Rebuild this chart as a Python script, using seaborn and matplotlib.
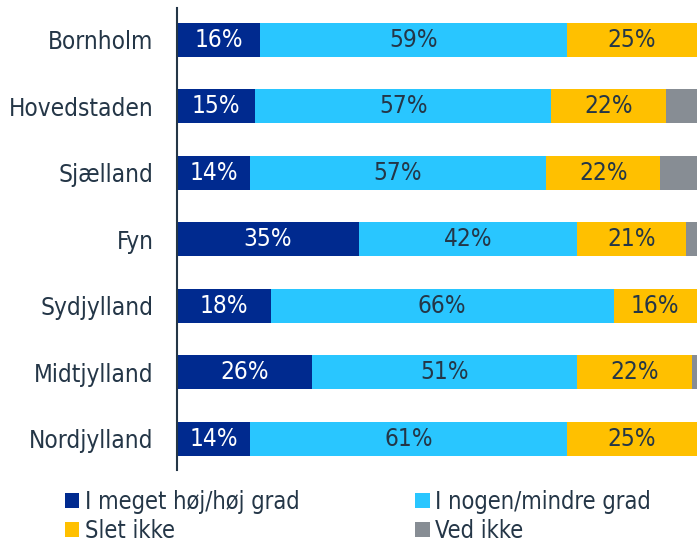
import numpy as np
import pandas as pd
import matplotlib.pyplot as plt
import seaborn as sns
from matplotlib.patches import Patch

# data
regions = ['Bornholm', 'Hovedstaden', 'Sjælland', 'Fyn', 'Sydjylland', 'Midtjylland', 'Nordjylland']
series = ['I meget høj/høj grad', 'I nogen/mindre grad', 'Slet ikke', 'Ved ikke']
hoej = [16, 15, 14, 35, 18, 26, 14]
nogen = [59, 57, 57, 42, 66, 51, 61]
slet = [25, 22, 22, 21, 16, 22, 25]
ved_ikke = [0, 6, 7, 2, 0, 1, 0]

colors = ['#002a8f', '#29c6ff', '#ffc000', '#878d94']
text_dark = '#243647'

sns.set_style('white')
plt.rcParams['font.family'] = ['DejaVu Sans']
plt.rcParams['font.stretch'] = 'condensed'

df = pd.DataFrame({'region': regions, series[0]: hoej, series[1]: nogen,
                   series[2]: slet, series[3]: ved_ikke})
cum = df[series].cumsum(axis=1)

fig = plt.figure(figsize=(7, 5.44), dpi=100)
ax = fig.add_axes([177 / 700, 74 / 544, 523 / 700, 462 / 544])

# stacked bars: draw widest cumulative layer first
for i in reversed(range(len(series))):
    sns.barplot(x=cum[series[i]], y=df['region'], color=colors[i], width=0.51,
                orient='h', ax=ax, saturation=1, edgecolor='none')

# value labels in the middle of each segment (not for "Ved ikke")
for i in range(3):
    for j, v in enumerate(df[series[i]]):
        x = cum[series[i]].iloc[j] - v / 2
        ax.text(x, j, f'{v}%', ha='center', va='center', fontsize=17.5,
                color='white' if i == 0 else text_dark)

ax.set_xlim(0, 100.6)
ax.set_ylim(6.47, -0.48)
ax.set_xlabel('')
ax.set_ylabel('')
ax.set_xticks([])
ax.tick_params(axis='y', length=0, pad=17, labelsize=17.5, labelcolor=text_dark)
for s in ['top', 'right', 'bottom']:
    ax.spines[s].set_visible(False)
ax.spines['left'].set_color(text_dark)
ax.spines['left'].set_linewidth(1.5)

handles = [Patch(facecolor=c, edgecolor='none') for c in colors]
order = [0, 2, 1, 3]
fig.legend([handles[k] for k in order], [series[k] for k in order], ncol=2,
           loc='upper left', bbox_to_anchor=(65 / 700, 0.1), frameon=False,
           borderpad=0, borderaxespad=0,
           fontsize=17, handlelength=0.6, handleheight=0.6, handletextpad=0.25,
           columnspacing=4.9, labelspacing=0.22, labelcolor=text_dark)

fig.savefig('out.png', dpi=100)
